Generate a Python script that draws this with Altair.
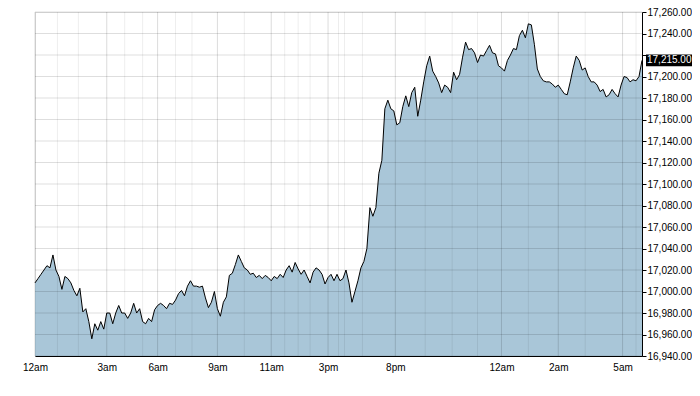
import altair as alt
import pandas as pd

# Price series (one value per time slot)
prices = [
    17008, 17012, 17016, 17020, 17024, 17022, 17034, 17020, 17014, 17002,
    17014, 17012, 17008, 17001, 16996, 17003, 16981, 16984, 16972, 16956,
    16970, 16964, 16972, 16965, 16980, 16980, 16970, 16980, 16987, 16980,
    16980, 16975, 16980, 16989, 16980, 16984, 16972, 16970, 16975, 16972,
    16983, 16987, 16989, 16987, 16984, 16989, 16988, 16992, 16998, 17001,
    16996, 17005, 17010, 17005, 17005, 17004, 17005, 16994, 16985, 16990,
    17000, 16984, 16977, 16990, 16995, 17015, 17017, 17025, 17034, 17028,
    17022, 17020, 17016, 17017, 17013, 17015, 17012, 17015, 17013, 17010,
    17014, 17012, 17016, 17013, 17020, 17024, 17018, 17027, 17021, 17016,
    17020, 17014, 17008, 17018, 17022, 17020, 17016, 17007, 17013, 17016,
    17010, 17016, 17010, 17012, 17020, 17008, 16990, 17000, 17010, 17022,
    17028, 17040, 17078, 17070, 17078, 17110, 17122, 17170, 17178, 17170,
    17168, 17155, 17157, 17172, 17182, 17172, 17185, 17190, 17163, 17178,
    17195, 17210, 17219, 17205, 17200, 17194, 17185, 17192, 17190, 17185,
    17204, 17197, 17202, 17218, 17232, 17225, 17226, 17222, 17213, 17220,
    17219, 17224, 17229, 17222, 17221, 17210, 17208, 17205, 17215, 17220,
    17226, 17225, 17238, 17243, 17236, 17249, 17248, 17230, 17207, 17200,
    17196, 17195, 17195, 17193, 17190, 17192, 17188, 17184, 17183, 17195,
    17208, 17219, 17215, 17206, 17208, 17200, 17195, 17195, 17192, 17186,
    17188, 17181, 17183, 17188, 17184, 17181, 17192, 17200, 17199, 17195,
    17197, 17196, 17200, 17215,
]

# Hour boundaries on the time-slot axis
major_pos = [0, 24, 41, 61, 79, 98, 120.5, 156, 175, 196.5]
major_labels = ["12am", "3am", "6am", "9am", "11am", "3pm", "8pm", "12am", "2am", "5am"]
minor_pos = [7.5, 14.5, 30, 36, 47, 52.5, 70, 83.5, 88, 92, 101.5, 103.5,
             109.5, 130.5, 139.5, 148, 165, 184, 201]
y_ticks = list(range(16940, 17261, 20))
y_min, y_max = 16940, 17260

W, H = 607, 344
FONT = "Liberation Sans"
FS = 10

df = pd.DataFrame({"i": list(range(len(prices))), "price": prices})
last_df = pd.DataFrame({"price": [prices[-1]]})
hgrid = pd.DataFrame({"v": y_ticks})
vmaj = pd.DataFrame({"p": major_pos})
vmin = pd.DataFrame({"p": minor_pos})

x_max = len(prices) - 1
xscale = alt.Scale(domain=[0, x_max], nice=False, zero=False)
yscale = alt.Scale(domain=[y_min, y_max], nice=False, zero=False)

label_arr = "[" + ",".join("'%s'" % s for s in major_labels) + "]"
pos_arr = "[" + ",".join(str(p) for p in major_pos) + "]"

x_axis = alt.Axis(values=major_pos, labelExpr=f"{label_arr}[indexof({pos_arr}, datum.value)]",
                  grid=False, ticks=False, domain=True, domainColor="black",
                  labelFont=FONT, labelFontSize=FS, labelColor="black",
                  labelPadding=6, title=None, labelFlush=False, labelOverlap=False)
y_axis = alt.Axis(orient="right", values=y_ticks, format=",.2f", grid=False,
                  labelExpr=f"abs(datum.value - {prices[-1]}) < 10 ? '' : format(datum.value, ',.2f')",
                  ticks=True, tickSize=4, tickColor="black", domain=True, domainColor="black",
                  labelFont=FONT, labelFontSize=FS, labelColor="black", labelPadding=1,
                  labelFlush=False, labelOverlap=False, labelBound=False, title=None)

area = alt.Chart(df).mark_area(color="#a9c6d8", opacity=1).encode(
    x=alt.X("i:Q", scale=xscale, axis=x_axis),
    y=alt.Y("price:Q", scale=yscale, axis=y_axis),
    y2=alt.datum(y_min),
)

hrules = alt.Chart(hgrid).mark_rule(color="black", opacity=0.13, strokeWidth=1).encode(
    y=alt.Y("v:Q", scale=yscale, axis=y_axis)
)
vmaj_rules = alt.Chart(vmaj).mark_rule(color="black", opacity=0.14, strokeWidth=1).encode(
    x=alt.X("p:Q", scale=xscale, axis=x_axis)
)
vmin_rules = alt.Chart(vmin).mark_rule(color="black", opacity=0.07, strokeWidth=1).encode(
    x=alt.X("p:Q", scale=xscale, axis=x_axis)
)

line = alt.Chart(df).mark_line(color="black", strokeWidth=1).encode(
    x=alt.X("i:Q", scale=xscale, axis=x_axis),
    y=alt.Y("price:Q", scale=yscale, axis=y_axis),
)

box = alt.Chart(last_df).transform_calculate(
    top="datum.price + 5.5", bot="datum.price - 5.5"
).mark_rect(color="black").encode(
    x=alt.value(W + 4), x2=alt.value(W + 51),
    y=alt.Y("top:Q", scale=yscale, axis=y_axis), y2="bot:Q",
)
box_text = alt.Chart(last_df).mark_text(
    color="white", align="left", baseline="middle", font=FONT, fontSize=FS
).encode(
    x=alt.value(W + 5),
    y=alt.Y("price:Q", scale=yscale, axis=y_axis),
    text=alt.Text("price:Q", format=",.2f"),
)

chart = alt.layer(area, vmin_rules, vmaj_rules, hrules, line, box, box_text).properties(
    width=W, height=H,
    autosize=alt.AutoSizeParams(type="none"),
    padding={"left": 27, "top": 4, "right": 50, "bottom": 25},
).configure_view(stroke="black", strokeWidth=1).configure_axis(
    labelOverlap=False
).configure(background="white")

chart.save("out.html", embed_options={"renderer": "svg", "actions": False})
